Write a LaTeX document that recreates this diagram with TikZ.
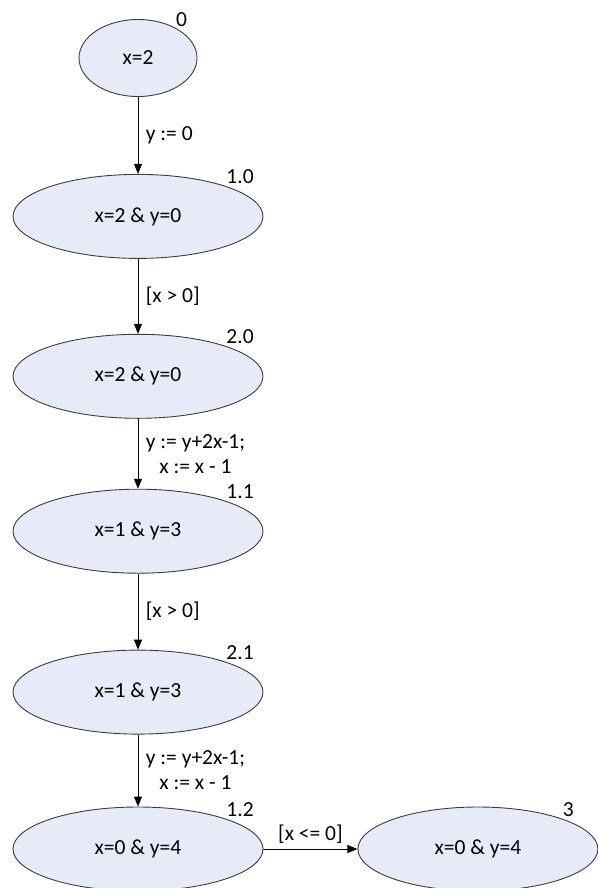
\documentclass[tikz,border=0pt]{standalone}
\usepackage{fontspec}
\setmainfont{Carlito}
\usepackage{tikz}
\usetikzlibrary{positioning, shapes.geometric, arrows.meta}
\definecolor{statefill}{RGB}{231,235,248}
\definecolor{stateline}{RGB}{60,60,60}

\begin{document}
\begin{tikzpicture}[
    node distance=74pt,
    every node/.style={font=\fontsize{21.5}{25}\selectfont},
    state/.style={
        ellipse, draw=stateline, fill=statefill, line width=0.9pt,
        minimum width=250pt, minimum height=84pt, inner sep=0pt
    },
    stepno/.style={label distance=-4pt},
    trans/.style={-{Triangle[length=10pt, width=8pt]}, line width=1pt, black},
    guard/.style={right=4pt, midway, align=center}
]
\useasboundingbox (0,0) rectangle (597pt,-888pt);

% === States (top to bottom) ===
\node[state, minimum width=118pt, minimum height=77pt,
      label={[stepno, xshift=-4pt, yshift=2pt]north east:0}] (s0) at (138pt,-58pt) {x=2};
\node[state, below=77pt of s0, label={[stepno]north east:1.0}] (s10) {x=2 \& y=0};
\node[state, below=75pt of s10, label={[stepno]north east:2.0}] (s20) {x=2 \& y=0};
\node[state, below=70pt of s20, label={[stepno]north east:1.1}] (s11) {x=1 \& y=3};
\node[state, below=76pt of s11, label={[stepno]north east:2.1}] (s21) {x=1 \& y=3};
\node[state, below=72pt of s21, label={[stepno]north east:1.2}] (s12) {x=0 \& y=4};

% Final state
\node[state, minimum width=240pt, right=94pt of s12,
      label={[stepno]north east:3}] (s3) {x=0 \& y=4};

% === Transitions ===
\draw[trans] (s0) -- node[guard] {y := 0} (s10);
\draw[trans] (s10) -- node[guard] {[x > 0]} (s20);
\draw[trans] (s20) -- node[guard] {y := y+2x-1;\\x := x - 1} (s11);
\draw[trans] (s11) -- node[guard] {[x > 0]} (s21);
\draw[trans] (s21) -- node[guard] {y := y+2x-1;\\x := x - 1} (s12);
\draw[trans] (s12) -- node[above=2pt, midway] {[x <= 0]} (s3);

\end{tikzpicture}
\end{document}
